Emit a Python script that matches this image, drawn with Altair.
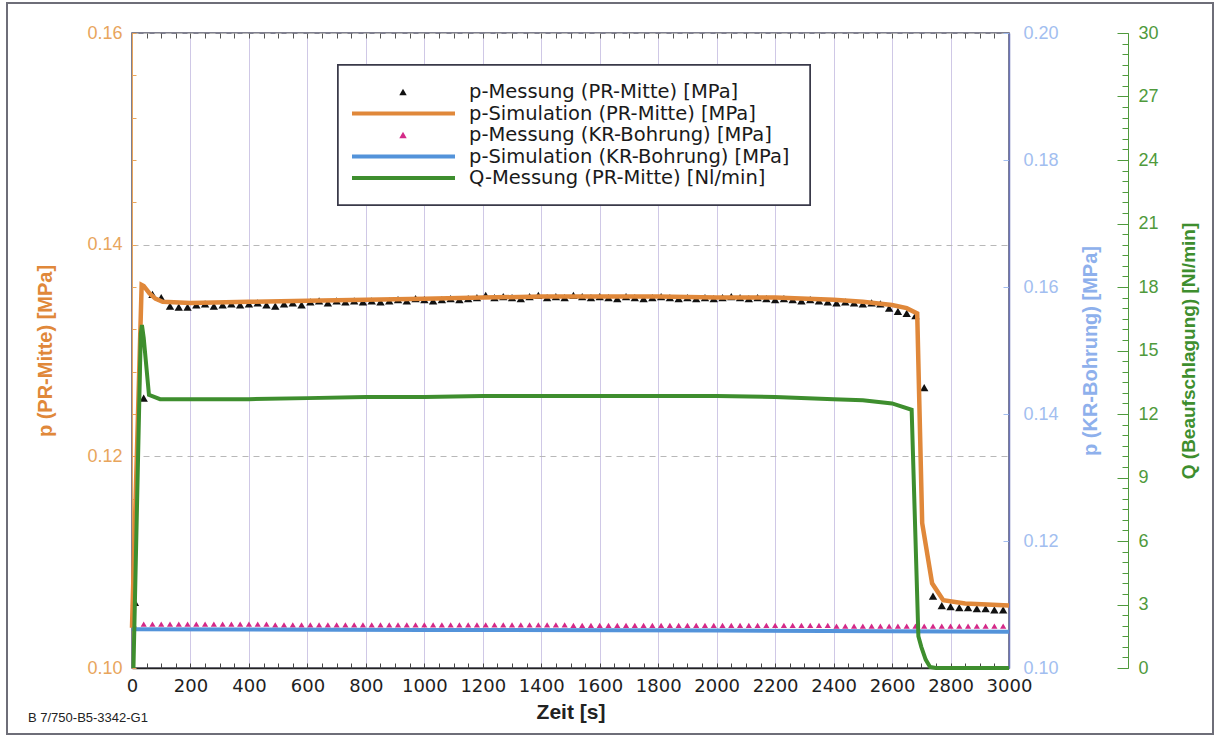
import altair as alt
import pandas as pd

# ---------------- data ----------------
meas_t = [10, 40, 70, 100, 130, 160, 190, 220, 250, 280,
          310, 340, 370, 400, 430, 460, 490, 520, 550, 580,
          610, 640, 670, 700, 730, 760, 790, 820, 850, 880,
          910, 940, 970, 1000, 1030, 1060, 1090, 1120, 1150, 1180,
          1210, 1240, 1270, 1300, 1330, 1360, 1390, 1420, 1450, 1480,
          1510, 1540, 1570, 1600, 1630, 1660, 1690, 1720, 1750, 1780,
          1810, 1840, 1870, 1900, 1930, 1960, 1990, 2020, 2050, 2080,
          2110, 2140, 2170, 2200, 2230, 2260, 2290, 2320, 2350, 2380,
          2410, 2440, 2470, 2500, 2530, 2560, 2590, 2620, 2650, 2680,
          2710, 2740, 2770, 2800, 2830, 2860, 2890, 2920, 2950, 2980]
meas_pr = [0.1062, 0.1255, 0.1353, 0.1350, 0.1342, 0.1341, 0.1341, 0.1343, 0.1344, 0.1342,
           0.1343, 0.1344, 0.1343, 0.1344, 0.1345, 0.1343, 0.1342, 0.1344, 0.1345, 0.1343,
           0.1346, 0.1347, 0.1345, 0.1347, 0.1346, 0.1347, 0.1346, 0.1347, 0.1346, 0.1347,
           0.1348, 0.1347, 0.1349, 0.1348, 0.1347, 0.1348, 0.1349, 0.1348, 0.1349, 0.1350,
           0.1352, 0.1350, 0.1351, 0.1350, 0.1349, 0.1351, 0.1352, 0.1350, 0.1351, 0.1350,
           0.1352, 0.1351, 0.1350, 0.1351, 0.1350, 0.1349, 0.1351, 0.1350, 0.1349, 0.1350,
           0.1351, 0.1350, 0.1349, 0.1350, 0.1349, 0.1350, 0.1349, 0.1350, 0.1351, 0.1350,
           0.1349, 0.1350, 0.1349, 0.1348, 0.1349, 0.1348, 0.1347, 0.1348, 0.1347, 0.1346,
           0.1345, 0.1346, 0.1345, 0.1344, 0.1345, 0.1344, 0.1340, 0.1337, 0.1335, 0.1333,
           0.1265, 0.1068, 0.1059, 0.1058, 0.1057, 0.1057, 0.1056, 0.1056, 0.1055, 0.1055]
meas_kr = [0.1064, 0.1069, 0.1069, 0.1069, 0.1069, 0.1069, 0.1069, 0.1069, 0.1069, 0.1069,
           0.1069, 0.1069, 0.1069, 0.1069, 0.1069, 0.1069, 0.1068, 0.1068, 0.1068, 0.1068,
           0.1068, 0.1068, 0.1068, 0.1068, 0.1068, 0.1068, 0.1068, 0.1068, 0.1068, 0.1068,
           0.1068, 0.1068, 0.1068, 0.1068, 0.1068, 0.1068, 0.1068, 0.1068, 0.1068, 0.1068,
           0.1068, 0.1068, 0.1068, 0.1068, 0.1068, 0.1068, 0.1068, 0.1068, 0.1068, 0.1068,
           0.1067, 0.1067, 0.1067, 0.1067, 0.1067, 0.1067, 0.1067, 0.1067, 0.1067, 0.1067,
           0.1067, 0.1067, 0.1067, 0.1067, 0.1067, 0.1067, 0.1067, 0.1067, 0.1067, 0.1067,
           0.1067, 0.1067, 0.1067, 0.1067, 0.1067, 0.1067, 0.1067, 0.1067, 0.1067, 0.1067,
           0.1066, 0.1066, 0.1066, 0.1066, 0.1066, 0.1066, 0.1066, 0.1066, 0.1066, 0.1066,
           0.1066, 0.1066, 0.1066, 0.1066, 0.1066, 0.1066, 0.1066, 0.1066, 0.1066, 0.1066]

sim_pr_t = [0, 33, 40, 60, 80, 105, 200, 400, 600, 800, 1000, 1200, 1400, 1600,
            1800, 2000, 2200, 2400, 2500, 2600, 2650, 2686, 2703, 2737, 2775, 2850, 3000]
sim_pr = [0.1038, 0.1362, 0.1361, 0.1354, 0.1349, 0.1346, 0.1345, 0.1346, 0.1347,
          0.1348, 0.1349, 0.1350, 0.1351, 0.1351, 0.1351, 0.1350, 0.1350, 0.1348,
          0.1346, 0.1343, 0.1340, 0.1335, 0.1137, 0.1080, 0.1064, 0.1061, 0.1059]

sim_kr_t = [0, 1000, 2000, 3000]
sim_kr = [0.1061, 0.1060, 0.1059, 0.1057]

q_t = [5, 30, 34, 40, 58, 96, 200, 400, 600, 800, 1000, 1200, 1400, 1600, 1800,
       2000, 2200, 2400, 2500, 2600, 2667, 2690, 2700, 2715, 2730, 2750, 3000]
q_val = [0.0, 15.8, 16.2, 15.6, 12.9, 12.7, 12.7, 12.7, 12.75, 12.8, 12.8, 12.85, 12.85,
         12.85, 12.85, 12.85, 12.8, 12.7, 12.65, 12.5, 12.2, 1.5, 1.0, 0.4, 0.05, 0.0, 0.0]

x_ticks = [0, 200, 400, 600, 800, 1000, 1200, 1400, 1600, 1800, 2000, 2200, 2400, 2600, 2800, 3000]
x_minor = [i * 50 for i in range(61)]
left_ticks = [0.10, 0.12, 0.14, 0.16]
left_minor = [round(0.10 + i * 0.004, 3) for i in range(16)]
kr_ticks = [0.10, 0.12, 0.14, 0.16, 0.18, 0.20]
q_ticks = [0, 3, 6, 9, 12, 15, 18, 21, 24, 27, 30]
q_minor = [i * 0.5 for i in range(61)]

legend_labels = ["p-Messung (PR-Mitte) [MPa]", "p-Simulation (PR-Mitte) [MPa]",
                 "p-Messung (KR-Bohrung) [MPa]", "p-Simulation (KR-Bohrung) [MPa]",
                 "Q-Messung (PR-Mitte) [Nl/min]"]
legend_kind = ["tri", "line", "tri", "line", "line"]
legend_row = [0, 1, 2, 3, 4]

# ---------------- styling ----------------
FONT = "Liberation Sans"
WFONT = "DejaVu Sans"
C_ORANGE = "#E0883A"
C_ORANGE_TXT = "#E8A55C"
C_BLUE = "#5393DA"
C_BLUE_TXT = "#A2BEF0"
C_GREEN = "#3E8E2E"
C_GREEN_TXT = "#4F9A3C"
C_PINK = "#D42A88"
C_BLACK = "#111111"
legend_colors = [C_BLACK, C_ORANGE, C_PINK, C_BLUE, C_GREEN]

W, H = 877, 635

df_meas = pd.DataFrame({"t": meas_t, "pr": meas_pr, "kr": meas_kr})
df_sim_pr = pd.DataFrame({"t": sim_pr_t, "v": sim_pr})
df_sim_kr = pd.DataFrame({"t": sim_kr_t, "v": sim_kr})
df_q = pd.DataFrame({"t": q_t, "q": q_val})
df_leg = pd.DataFrame({"label": legend_labels, "kind": legend_kind, "row": legend_row})

xs = alt.Scale(domain=[0, 3000], nice=False, zero=False)
s_left = alt.Scale(domain=[0.10, 0.16], nice=False, zero=False)
s_kr = alt.Scale(domain=[0.10, 0.20], nice=False, zero=False)
s_q = alt.Scale(domain=[0, 30], nice=False, zero=False)

# black triangles: carry inward top ticks and inward left minor ticks
l_black = alt.Chart(df_meas).mark_point(shape="triangle-up", filled=True, size=70,
                                         color=C_BLACK, opacity=1).encode(
    x=alt.X("t:Q", scale=xs, axis=alt.Axis(orient="top", values=x_minor, labels=False,
                                             domain=False, grid=False, tickSize=5, offset=-5,
                                             tickColor="#555", title=None)),
    y=alt.Y("pr:Q", scale=s_left, axis=alt.Axis(orient="left", values=left_minor, labels=False,
                                                 domain=False, grid=False, tickSize=4, offset=-4,
                                                 tickColor=C_ORANGE_TXT, title=None)),
)

# orange simulation line: main x axis and main left axis
l_orange = alt.Chart(df_sim_pr).mark_line(color=C_ORANGE, strokeWidth=4.5).encode(
    x=alt.X("t:Q", scale=xs, axis=alt.Axis(orient="bottom", values=x_ticks, format="d",
                                             grid=True, gridColor="#CFC8E6", gridWidth=1,
                                             ticks=False, domainColor="#222", domainWidth=1.5,
                                             labelFont=WFONT, labelFontSize=18, labelColor="#1E1E1E",
                                             labelPadding=9, labelFlush=False, labelOverlap=False,
                                             title="Zeit [s]", titleFont=FONT,
                                             titleFontSize=21, titleFontWeight="bold",
                                             titleColor="#222", titlePadding=6)),
    y=alt.Y("v:Q", scale=s_left, axis=alt.Axis(orient="left", values=left_ticks, format=".2f",
                                                grid=True, gridColor="#B8B8B8", gridDash=[6, 5],
                                                gridWidth=1, ticks=False, domainColor=C_ORANGE_TXT,
                                                domainWidth=1, labelFont=FONT, labelFontSize=18,
                                                labelColor=C_ORANGE_TXT, labelPadding=10,
                                                labelFlush=False, labelOverlap=False,
                                                title="p (PR-Mitte) [MPa]", titleFont=FONT,
                                                titleFontSize=20, titleFontWeight="bold",
                                                titleColor=C_ORANGE, titleAngle=270,
                                                titleX=-87, titleY=H / 2, titleAlign="center",
                                                titleBaseline="middle")),
)

# pink triangles: carry inward bottom ticks and inward blue ticks
l_pink = alt.Chart(df_meas).mark_point(shape="triangle-up", filled=True, size=38,
                                        color=C_PINK, opacity=1).encode(
    x=alt.X("t:Q", scale=xs, axis=alt.Axis(orient="bottom", values=x_minor, labels=False,
                                             domain=False, grid=False, tickSize=5, offset=-5,
                                             tickColor="#444", title=None)),
    y=alt.Y("kr:Q", scale=s_kr, axis=alt.Axis(orient="right", values=kr_ticks, labels=False,
                                               domain=False, grid=False, tickSize=6, offset=-6,
                                               tickColor=C_BLUE_TXT, title=None)),
)

l_blue = alt.Chart(df_sim_kr).mark_line(color=C_BLUE, strokeWidth=4).encode(
    x=alt.X("t:Q", scale=xs, axis=None),
    y=alt.Y("v:Q", scale=s_kr, axis=alt.Axis(orient="right", values=kr_ticks, format=".2f",
                                              grid=False, ticks=False, domainColor="#6C74B8",
                                              domainWidth=1.5, labelFont=FONT, labelFontSize=18,
                                              labelColor=C_BLUE_TXT, labelPadding=14,
                                              labelFlush=False, labelOverlap=False,
                                              title="p (KR-Bohrung) [MPa]", titleFont=FONT,
                                              titleFontSize=20, titleFontWeight="bold",
                                              titleColor="#8EB0EC", titleAngle=270,
                                              titleX=81, titleY=H / 2, titleAlign="center",
                                              titleBaseline="middle")),
)

l_green = alt.Chart(df_q).mark_line(color=C_GREEN, strokeWidth=4).encode(
    x=alt.X("t:Q", scale=xs, axis=None),
    y=alt.Y("q:Q", scale=s_q, axis=alt.Axis(orient="right", values=q_ticks, format="d",
                                             grid=False, ticks=False, offset=119,
                                             domainColor=C_GREEN_TXT, domainWidth=1,
                                             labelFont=FONT, labelFontSize=18,
                                             labelColor=C_GREEN_TXT, labelPadding=10,
                                             labelFlush=False, labelOverlap=False,
                                             title="Q (Beaufschlagung) [Nl/min]", titleFont=FONT,
                                             titleFontSize=19, titleFontWeight="bold",
                                             titleColor=C_GREEN, titleAngle=270,
                                             titleX=60, titleY=H / 2, titleAlign="center",
                                             titleBaseline="middle")),
)

l_gmajor = alt.Chart(df_q).mark_line(strokeOpacity=0).encode(
    x=alt.X("t:Q", scale=xs, axis=None),
    y=alt.Y("q:Q", scale=s_q, axis=alt.Axis(orient="right", values=q_ticks, labels=False,
                                             domain=False, grid=False, tickSize=11, offset=108,
                                             tickColor=C_GREEN_TXT, title=None)),
)
l_gminor = alt.Chart(df_q).mark_line(strokeOpacity=0).encode(
    x=alt.X("t:Q", scale=xs, axis=None),
    y=alt.Y("q:Q", scale=s_q, axis=alt.Axis(orient="right", values=q_minor, labels=False,
                                             domain=False, grid=False, tickSize=6, offset=113,
                                             tickColor=C_GREEN_TXT, title=None)),
)

# ---------------- legend (drawn inside the plot) ----------------
leg_y = alt.Y("row:Q", scale=alt.Scale(domain=[0, 4], range=[59, 145]), axis=None)
leg_color = alt.Color("label:N", scale=alt.Scale(domain=legend_labels, range=legend_colors),
                      legend=None)
leg_box = alt.Chart(df_leg).mark_rect(fill="white", stroke="#3A3A4A", strokeWidth=1.5).encode(
    x=alt.value(206), x2=alt.value(678), y=alt.value(32), y2=alt.value(172))
leg_lines = alt.Chart(df_leg).transform_filter(alt.datum.kind == "line").mark_rule(
    strokeWidth=4).encode(x=alt.value(220), x2=alt.value(323), y=leg_y, color=leg_color)
leg_tris = alt.Chart(df_leg).transform_filter(alt.datum.kind == "tri").mark_point(
    shape="triangle-up", filled=True, size=55, opacity=1).encode(
    x=alt.value(271), y=leg_y, color=leg_color)
leg_text = alt.Chart(df_leg).mark_text(align="left", baseline="middle", font=WFONT,
                                        fontSize=19.5, color="#1A1A1A").encode(
    x=alt.value(337), y=leg_y, text="label:N")

# ---------------- outer frame and footnote ----------------
frame = alt.Chart(df_leg.head(1)).mark_rect(fillOpacity=0, stroke="#6E6E78", strokeWidth=2).encode(
    x=alt.value(-125), x2=alt.value(1081), y=alt.value(-30), y2=alt.value(701))
foot = alt.Chart(df_leg.head(1)).mark_text(align="left", baseline="middle", font=FONT,
                                            fontSize=13, color="#222").encode(
    x=alt.value(-104), y=alt.value(685), text=alt.value("B 7/750-B5-3342-G1"))

chart = alt.layer(
    l_black, l_orange, l_pink, l_blue, l_green, l_gmajor, l_gminor,
    leg_box, leg_lines, leg_tris, leg_text, frame, foot,
).resolve_scale(y="independent", color="independent").resolve_axis(
    x="independent", y="independent"
).properties(
    width=W, height=H,
    autosize=alt.AutoSizeParams(type="none"),
    padding={"left": 132, "top": 33, "right": 206, "bottom": 68},
    background="white",
).configure_view(stroke="#55556A", strokeWidth=1.5)

chart.save("out.html", embed_options={"renderer": "svg", "actions": False})
